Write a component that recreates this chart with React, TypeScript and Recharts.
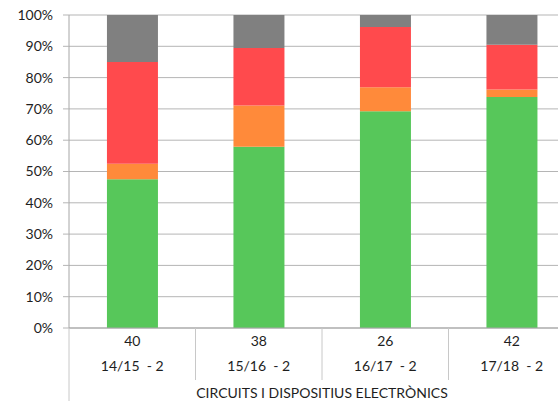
import { BarChart, Bar, XAxis, YAxis, CartesianGrid, Label } from 'recharts'

// counts per grade bucket, per course edition
const courses = ['14/15  - 2', '15/16  - 2', '16/17  - 2', '17/18  - 2']
const totals = [40, 38, 26, 42]
const passed = [19, 22, 18, 31]
const notable = [2, 5, 2, 1]
const failed = [13, 7, 5, 6]
const absent = [6, 4, 1, 4]
const yTicks = [0, 0.1, 0.2, 0.3, 0.4, 0.5, 0.6, 0.7, 0.8, 0.9, 1]
const groupLabel = 'CIRCUITS I DISPOSITIUS ELECTRÒNICS'

const W = 600
const H = 401
const M = { top: 15, right: 25, left: 0, bottom: 0 }
const Y_W = 69
const X_H = 73
const PLOT_W = W - M.left - M.right - Y_W
const BAND = PLOT_W / courses.length

const rows = courses.map((c, i) => ({
  name: c,
  total: totals[i],
  passed: passed[i],
  notable: notable[i],
  failed: failed[i],
  absent: absent[i],
}))

const TXT = '#1e1e1e'

function CourseTick(props: any) {
  const { x, y, payload, index } = props
  const row = rows[index] || rows.find(r => r.name === payload.value)
  const left = x - BAND / 2
  return (
    <g>
      <line x1={left} x2={left} y1={y} y2={index === 0 ? y + X_H : y + 52} stroke="#c8c8c8" />
      {index === courses.length - 1 && (
        <line x1={x + BAND / 2} x2={x + BAND / 2} y1={y} y2={y + 52} stroke="#c8c8c8" />
      )}
      <text x={x} y={y + 18} textAnchor="middle" fill={TXT} fontSize={14}>{row ? row.total : ''}</text>
      <text x={x} y={y + 43} textAnchor="middle" fill={TXT} fontSize={14} style={{ whiteSpace: 'pre' }}>
        {payload.value}
      </text>
    </g>
  )
}

export default function App() {
  return (
    <div style={{ position: 'absolute', left: 0, top: 0, width: 558, height: 401, overflow: 'hidden', background: '#fff', fontFamily: 'Lato, sans-serif' }}>
      <BarChart width={W} height={H} data={rows} margin={M} stackOffset="expand" barCategoryGap="30%">
        <CartesianGrid vertical={false} stroke="#b5b5b5" />
        <XAxis
          dataKey="name"
          height={X_H}
          tickLine={false}
          tickSize={0}
          tickMargin={0}
          stroke="#a6a6a6"
          tick={<CourseTick />}
          interval={0}
        >
          <Label value={groupLabel} position="insideBottom" offset={3} fill={TXT} fontSize={14} />
        </XAxis>
        <YAxis
          width={Y_W}
          domain={[0, 1]}
          ticks={yTicks}
          tickFormatter={(v: number) => Math.round(v * 100) + '%'}
          tickSize={6}
          tickMargin={10}
          stroke="#a6a6a6"
          tickLine={{ stroke: '#b5b5b5' }}
          tick={{ fill: TXT, fontSize: 14 }}
          interval={0}
        />
        <Bar dataKey="passed" stackId="a" fill="#57c75a" isAnimationActive={false} />
        <Bar dataKey="notable" stackId="a" fill="#ff8a3a" isAnimationActive={false} />
        <Bar dataKey="failed" stackId="a" fill="#ff4a4d" isAnimationActive={false} />
        <Bar dataKey="absent" stackId="a" fill="#808080" isAnimationActive={false} />
      </BarChart>
    </div>
  )
}
